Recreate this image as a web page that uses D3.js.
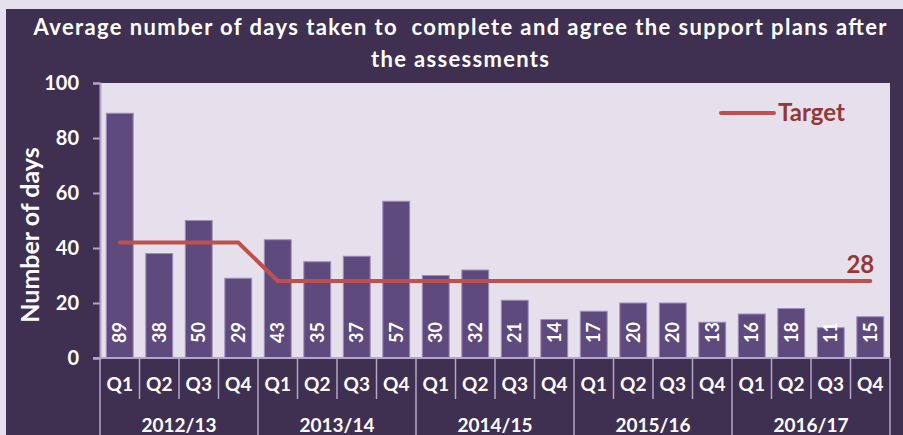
<!DOCTYPE html>
<html>
<head>
<meta charset="utf-8">
<script src="https://cdn.jsdelivr.net/npm/d3@7/dist/d3.min.js"></script>
<style>
  body { margin: 0; background: #e6e0ec; }
  svg { display: block; font-family: Lato, "Open Sans", sans-serif; font-weight: bold; }
</style>
</head>
<body>
<div id="chart"></div>
<script>
'use strict';

// chart data
const years = ['2012/13', '2013/14', '2014/15', '2015/16', '2016/17'];
const quarters = ['Q1', 'Q2', 'Q3', 'Q4'];
const days = [89, 38, 50, 29, 43, 35, 37, 57, 30, 32, 21, 14, 17, 20, 20, 13, 16, 18, 11, 15];
const target = [42, 42, 42, 42, 28, 28, 28, 28, 28, 28, 28, 28, 28, 28, 28, 28, 28, 28, 28, 28];
const yTicks = [0, 20, 40, 60, 80, 100];

const W = 903, H = 435;
const margin = { top: 83, right: 13, bottom: 77, left: 100 };
const width = W - margin.left - margin.right;
const height = H - margin.top - margin.bottom;

const cats = years.flatMap(y => quarters.map(q => `${y} ${q}`));

const svg = d3.select('#chart')
    .append('svg')
    .attr('width', W)
    .attr('height', H);

// dark frame and light plot area
svg.append('rect')
    .attr('x', 6).attr('y', 9)
    .attr('width', W - 6).attr('height', H - 9)
    .attr('fill', '#3f3052');

svg.append('rect')
    .attr('x', margin.left).attr('y', margin.top)
    .attr('width', width).attr('height', height)
    .attr('fill', '#e6e0ec');

// title (stretched to the width of the original's font)
const title = svg.append('text')
    .attr('fill', '#fff')
    .attr('font-size', 22)
    .attr('text-anchor', 'middle')
    .style('white-space', 'pre');
title.append('tspan').attr('x', 460).attr('y', 35)
    .attr('textLength', 853).attr('lengthAdjust', 'spacing')
    .text('Average number of days taken to  complete and agree the support plans after');
title.append('tspan').attr('x', 460).attr('y', 67)
    .attr('textLength', 178).attr('lengthAdjust', 'spacing')
    .text('the assessments');

const g = svg.append('g')
    .attr('transform', `translate(${margin.left}, ${margin.top})`);

const x = d3.scaleBand()
    .domain(cats)
    .range([0, width])
    .paddingInner(0.32)
    .paddingOuter(0.16);

const y = d3.scaleLinear()
    .domain([0, 100])
    .range([height, 0]);

// y axis
const yAxis = g.append('g')
    .call(d3.axisLeft(y).tickValues(yTicks).tickSize(7).tickPadding(14));
yAxis.select('.domain').attr('stroke', '#b4a5cb').attr('stroke-width', 2);
yAxis.selectAll('.tick line').attr('stroke', '#b4a5cb').attr('stroke-width', 2);
yAxis.selectAll('.tick text')
    .attr('fill', '#fff')
    .attr('font-size', 20)
    .attr('font-family', 'Lato, sans-serif')
    .attr('font-weight', 'bold');

svg.append('text')
    .attr('transform', `translate(39, 235) rotate(-90)`)
    .attr('text-anchor', 'middle')
    .attr('fill', '#fff')
    .attr('font-size', 25)
    .text('Number of days');

// bars
g.selectAll('.bar')
    .data(days)
  .enter().append('rect')
    .attr('class', 'bar')
    .attr('x', (d, i) => x(cats[i]))
    .attr('y', d => y(d))
    .attr('width', x.bandwidth())
    .attr('height', d => height - y(d))
    .attr('fill', '#5e4a7c')
    .attr('stroke', '#9d8dba')
    .attr('stroke-width', 1);

// value labels
g.selectAll('.val')
    .data(days)
  .enter().append('text')
    .attr('class', 'val')
    .attr('transform', (d, i) => `translate(${x(cats[i]) + x.bandwidth() / 2}, ${height - 15}) rotate(-90)`)
    .attr('dy', '0.36em')
    .attr('fill', '#fff')
    .attr('font-size', 18)
    .text(d => d);

// target line
const line = d3.line()
    .x((d, i) => x(cats[i]) + x.bandwidth() / 2)
    .y(d => y(d));

g.append('path')
    .datum(target)
    .attr('d', line)
    .attr('fill', 'none')
    .attr('stroke', '#c0504d')
    .attr('stroke-width', 4)
    .attr('stroke-linecap', 'round');

const last = target.length - 1;
g.append('text')
    .attr('x', x(cats[last]) + x.bandwidth() / 2 + 4)
    .attr('y', y(target[last]) - 8)
    .attr('text-anchor', 'end')
    .attr('fill', '#953735')
    .attr('font-size', 24)
    .text(target[last]);

// legend
const legend = svg.append('g')
    .attr('transform', 'translate(721, 113)');
legend.append('line')
    .attr('x1', 0).attr('x2', 53)
    .attr('stroke', '#c0504d')
    .attr('stroke-width', 4)
    .attr('stroke-linecap', 'round');
legend.append('text')
    .attr('x', 57).attr('y', 8)
    .attr('fill', '#953735')
    .attr('font-size', 24)
    .text('Target');

// x axis: line, separators, labels
const x0 = x(cats[0]) - x.paddingOuter() * x.step();
const cell = width / cats.length;
const axisG = g.append('g').attr('transform', `translate(0, ${height})`);

axisG.append('line')
    .attr('x1', -7).attr('x2', width)
    .attr('stroke', '#b4a5cb').attr('stroke-width', 2);

axisG.selectAll('.sep')
    .data(d3.range(cats.length + 1))
  .enter().append('line')
    .attr('x1', i => x0 + i * cell)
    .attr('x2', i => x0 + i * cell)
    .attr('y1', 0)
    .attr('y2', i => i % 4 === 0 ? margin.bottom : 41)
    .attr('stroke', '#b4a5cb')
    .attr('stroke-width', 1.5);

axisG.selectAll('.q')
    .data(cats)
  .enter().append('text')
    .attr('x', c => x(c) + x.bandwidth() / 2)
    .attr('y', 33)
    .attr('text-anchor', 'middle')
    .attr('fill', '#fff')
    .attr('font-size', 19)
    .text(c => c.split(' ')[1]);

axisG.selectAll('.yr')
    .data(years)
  .enter().append('text')
    .attr('x', (yr, i) => x0 + (i * 4 + 2) * cell)
    .attr('y', 74)
    .attr('text-anchor', 'middle')
    .attr('fill', '#fff')
    .attr('font-size', 19)
    .text(yr => yr);
</script>
</body>
</html>
